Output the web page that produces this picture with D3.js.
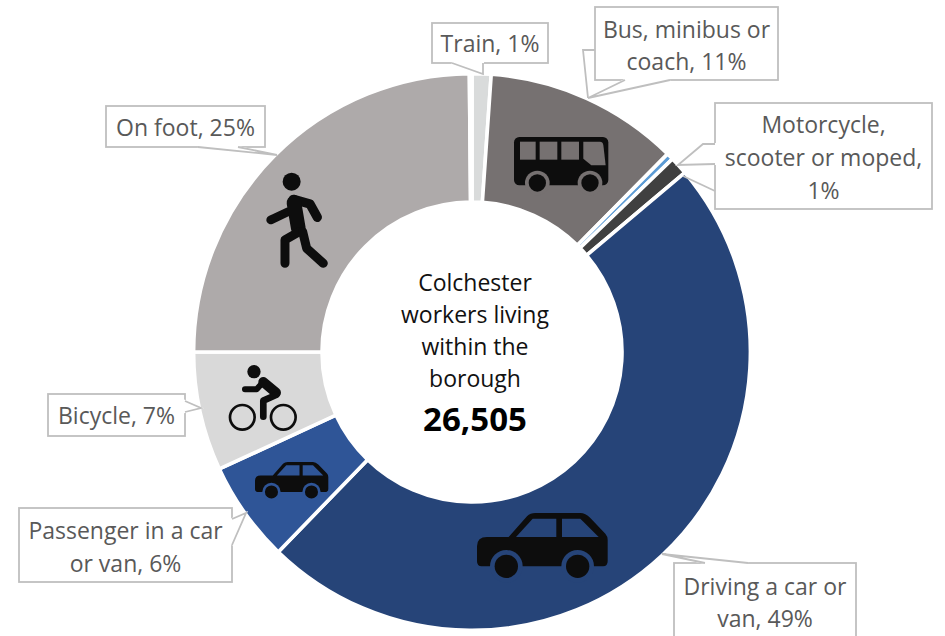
<!DOCTYPE html>
<html>
<head>
<meta charset="utf-8">
<script src="https://cdn.jsdelivr.net/npm/d3@7"></script>
<style>
  html, body { margin: 0; padding: 0; background: #fff; overflow: hidden; }
  svg { display: block; }
  text { font-family: "Open Sans", sans-serif; }
</style>
</head>
<body>
<svg id="chart" width="945" height="636"></svg>
<script>
// travel modes, clockwise from 12 o'clock. last slice is unlabelled and shows as a wider gap
var modes = ["Train", "Bus, minibus or coach", "Other", "Motorcycle, scooter or moped", "Driving a car or van", "Passenger in a car or van", "Bicycle", "On foot", "Unlabelled"];
var shares = [1.1, 11.3, 0.4, 1.05, 48.4, 5.85, 6.9, 24.85, 0.15];
var colours = ["#d9dbdb", "#767171", "#5b9bd5", "#404040", "#264478", "#2f5597", "#d9d9d9", "#aeaaaa", "#ffffff"];
var centreLines = ["Colchester", "workers living", "within the", "borough"];
var centreTotal = "26,505";

var svg = d3.select("#chart");
var cx = 472, cy = 352;
var labelColour = "#595959", boxColour = "#bfbfbf", iconColour = "#0d0d0d";

var pie = d3.pie().sort(null).value(function(d){ return d; });
var arc = d3.arc().innerRadius(150).outerRadius(278.4);

var ring = svg.append("g").attr("transform", "translate(" + cx + "," + cy + ")");
ring.selectAll("path")
  .data(pie(shares))
  .enter().append("path")
  .attr("d", arc)
  .attr("fill", function(d, i){ return colours[i]; })
  .attr("stroke", "#fff")
  .attr("stroke-width", 3.6);

// callouts: box outline with the pointer drawn into it, then the text lines
var callouts = [
  { lines: ["Train, 1%"], x: 432, y: 23, w: 116, h: 40, textY: [43],
    pointer: "M452,63L483,74L483,63" },
  { lines: ["Bus, minibus or", "coach, 11%"], x: 595, y: 7, w: 183, h: 73, textY: [29, 61],
    pointer: "M625,80L588,98L670,80", extra: "M595,50L583,50L588,98" },
  { lines: ["Motorcycle,", "scooter or moped,", "1%"], x: 715, y: 103, w: 217, h: 106, textY: [124, 157, 190],
    pointer: "M715,144L703,144L678,165L715,164", extra: "M683,176L715,191" },
  { lines: ["Driving a car or", "van, 49%"], x: 674, y: 563, w: 182, h: 80, textY: [586, 618],
    pointer: "M705,563L662,554L748,563" },
  { lines: ["Passenger in a car", "or van, 6%"], x: 19, y: 508, w: 213, h: 74, textY: [530, 563],
    pointer: "M232,519L246,513L232,545" },
  { lines: ["Bicycle, 7%"], x: 48, y: 394, w: 137, h: 42, textY: [415],
    pointer: "M185,401L201,408L185,412" },
  { lines: ["On foot, 25%"], x: 106, y: 106, w: 159, h: 41, textY: [127],
    pointer: "M198,147L277,155L238,147" }
];

callouts.forEach(function(c){
  var g = svg.append("g");
  g.append("rect")
    .attr("x", c.x).attr("y", c.y).attr("width", c.w).attr("height", c.h)
    .attr("fill", "#fff").attr("stroke", boxColour).attr("stroke-width", 1.8);
  g.append("path").attr("d", c.pointer + "Z").attr("fill", "#fff").attr("stroke", "#fff").attr("stroke-width", 2);
  g.append("path").attr("d", c.pointer).attr("fill", "none").attr("stroke", boxColour).attr("stroke-width", 1.8);
  if (c.extra) {
    g.append("path").attr("d", c.extra).attr("fill", "none").attr("stroke", boxColour).attr("stroke-width", 1.8);
  }
  c.lines.forEach(function(line, i){
    g.append("text")
      .attr("x", c.x + c.w / 2).attr("y", c.textY[i])
      .attr("text-anchor", "middle").attr("dominant-baseline", "central")
      .attr("font-size", 23).attr("fill", labelColour)
      .text(line);
  });
});

// centre text
var centre = svg.append("g");
centreLines.forEach(function(line, i){
  centre.append("text")
    .attr("x", 475).attr("y", 282 + i * 32)
    .attr("text-anchor", "middle").attr("dominant-baseline", "central")
    .attr("font-size", 23).attr("fill", "#111")
    .text(line);
});
centre.append("text")
  .attr("x", 475).attr("y", 418)
  .attr("text-anchor", "middle").attr("dominant-baseline", "central")
  .attr("font-size", 33).attr("font-weight", 700).attr("fill", "#000")
  .text(centreTotal);

// icons, drawn in 3x units
function drawCar(x, y, k, bg){
  var g = svg.append("g").attr("transform", "translate(" + x + "," + y + ") scale(" + k + ")");
  g.append("path").attr("fill", iconColour)
    .attr("d", "M0,100Q0,72 30,72L95,72L150,10Q160,0 175,0L310,0Q325,0 340,15L385,62Q392,70 392,80L392,145Q392,160 378,160L14,160Q0,160 0,145Z");
  g.append("path").attr("fill", bg).attr("d", "M117,72L167,17L238,17L238,72Z");
  g.append("path").attr("fill", bg).attr("d", "M255,17L310,17L365,72L255,72Z");
  [88, 302].forEach(function(wx){
    g.append("circle").attr("cx", wx).attr("cy", 160).attr("r", 49).attr("fill", bg);
    g.append("circle").attr("cx", wx).attr("cy", 160).attr("r", 35).attr("fill", iconColour);
  });
}
drawCar(477, 513, 1 / 3, colours[4]);
drawCar(255, 462, 0.187, colours[5]);

// bus
var bus = svg.append("g").attr("transform", "translate(514,137) scale(0.3333)");
bus.append("rect").attr("width", 283).attr("height", 145).attr("rx", 16).attr("fill", iconColour);
[[18, 47], [77, 53], [142, 53]].forEach(function(w){
  bus.append("rect").attr("x", w[0]).attr("y", 14).attr("width", w[1]).attr("height", 54).attr("fill", colours[1]);
});
bus.append("path").attr("fill", colours[1]).attr("d", "M208,14L258,14Q266,14 268,24L275,85L232,85L208,65Z");
[70, 228].forEach(function(wx){
  bus.append("circle").attr("cx", wx).attr("cy", 138).attr("r", 37).attr("fill", colours[1]);
  bus.append("circle").attr("cx", wx).attr("cy", 138).attr("r", 26).attr("fill", iconColour);
});

// walker
var walker = svg.append("g").attr("transform", "translate(90,90) scale(0.3333)")
  .attr("fill", "none").attr("stroke", iconColour).attr("stroke-linecap", "round").attr("stroke-linejoin", "round");
walker.append("circle").attr("cx", 605).attr("cy", 275).attr("r", 27).attr("fill", iconColour).attr("stroke", "none");
walker.append("path").attr("stroke-width", 28).attr("d", "M610,328L660,342L682,382");
walker.append("path").attr("stroke-width", 26).attr("d", "M595,365L542,390");
walker.append("path").attr("stroke-width", 44).attr("d", "M612,338L625,415");
walker.append("path").attr("stroke-width", 27).attr("d", "M628,425L585,450L585,520");
walker.append("path").attr("stroke-width", 27).attr("d", "M638,425L650,475L700,520");

// cyclist
var cyclist = svg.append("g").attr("transform", "translate(0,360) scale(0.3333)")
  .attr("fill", "none").attr("stroke", iconColour).attr("stroke-linecap", "round").attr("stroke-linejoin", "round");
cyclist.append("circle").attr("cx", 762).attr("cy", 35).attr("r", 20).attr("fill", iconColour).attr("stroke", "none");
cyclist.append("circle").attr("cx", 727).attr("cy", 172).attr("r", 37).attr("stroke-width", 8);
cyclist.append("circle").attr("cx", 850).attr("cy", 172).attr("r", 37).attr("stroke-width", 8);
cyclist.append("path").attr("stroke-width", 18).attr("d", "M790,66L770,88L735,88");
cyclist.append("path").attr("stroke-width", 30).attr("d", "M790,66L828,98");
cyclist.append("path").attr("stroke-width", 20).attr("d", "M828,105L790,122L790,170");
</script>
</body>
</html>
